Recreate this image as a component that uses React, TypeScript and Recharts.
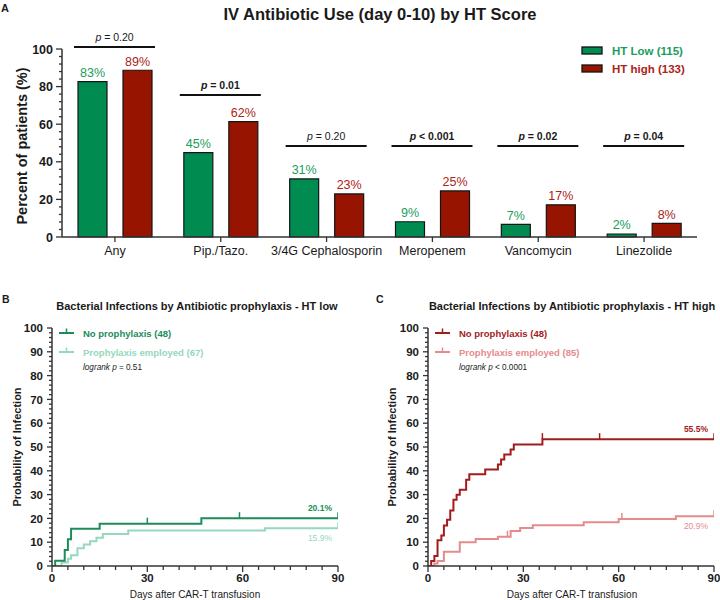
import React from 'react';
import { BarChart, Bar, XAxis, YAxis, LabelList, Legend, ComposedChart, Line } from 'recharts';

const FONT = '"Liberation Sans", Arial, Helvetica, sans-serif';

// ---------- Panel A data ----------
const antibiotics = ['Any', 'Pip./Tazo.', '3/4G Cephalosporin', 'Meropenem', 'Vancomycin', 'Linezolide'];
const htLowPct = [82.6, 44.9, 30.9, 8.1, 6.7, 1.6];
const htHighPct = [88.7, 61.4, 22.9, 24.5, 17.1, 7.3];
const htLowLabels = ['83%', '45%', '31%', '9%', '7%', '2%'];
const htHighLabels = ['89%', '62%', '23%', '25%', '17%', '8%'];
const pOperator = ['=', '=', '=', '<', '=', '='];
const pValue = ['0.20', '0.01', '0.20', '0.001', '0.02', '0.04'];
const pBold = [false, true, false, true, true, true];
const pBracketLevel = [101, 75.5, 48.4, 48.4, 48.4, 48.4];
const barMajorTicks = [0, 20, 40, 60, 80, 100];
const barAllTicks = [0, 4, 8, 12, 16, 20, 24, 28, 32, 36, 40, 44, 48, 52, 56, 60, 64, 68, 72, 76, 80, 84, 88, 92, 96, 100];
const legendA = ['HT Low (115)', 'HT high (133)'];

// ---------- Panel B data (HT low) ----------
const bNoProphylaxis = [
  { day: 0, p: 0 }, { day: 1, p: 2.2 }, { day: 4, p: 6.7 }, { day: 5, p: 11.2 }, { day: 6, p: 15.6 },
  { day: 15, p: 17.8 }, { day: 30, p: 17.8, c: 1 }, { day: 47, p: 20.1 }, { day: 59, p: 20.1, c: 1 },
  { day: 90, p: 20.1, c: 1 },
];
const bProphylaxis = [
  { day: 0, p: 0 }, { day: 3, p: 1.5 }, { day: 5, p: 3.0 }, { day: 6, p: 4.5 }, { day: 8, p: 7.5 },
  { day: 10, p: 9.0 }, { day: 12, p: 10.4 }, { day: 14, p: 11.9 }, { day: 16, p: 13.4 }, { day: 24, p: 14.9 },
  { day: 67, p: 15.9 }, { day: 90, p: 15.9, c: 1 },
];
const bLegend = ['No prophylaxis (48)', 'Prophylaxis employed (67)'];
const bEndLabels = ['20.1%', '15.9%'];
const bLogrank = ['=', '0.51'];

// ---------- Panel C data (HT high) ----------
const cNoProphylaxis = [
  { day: 0, p: 0 }, { day: 1, p: 2.1 }, { day: 2, p: 4.2 }, { day: 3, p: 10.8 }, { day: 4.2, p: 12.8 },
  { day: 5, p: 17.0 }, { day: 6, p: 19.4 }, { day: 7, p: 23.3 }, { day: 8, p: 27.8 }, { day: 9, p: 29.9 },
  { day: 10, p: 32.0 }, { day: 12, p: 36.2 }, { day: 13, p: 38.5 }, { day: 18, p: 40.5 }, { day: 22, p: 42.6 },
  { day: 23, p: 44.7 }, { day: 24, p: 46.9 }, { day: 26, p: 49.0 }, { day: 27, p: 51.1 },
  { day: 36, p: 53.3, c: 1 }, { day: 54, p: 53.3, c: 1 }, { day: 90, p: 53.3, c: 1 },
];
const cProphylaxis = [
  { day: 0, p: 0 }, { day: 2, p: 1.1 }, { day: 3, p: 2.1 }, { day: 5, p: 6.0 }, { day: 10, p: 10.0 },
  { day: 15, p: 11.3 }, { day: 22, p: 12.3 }, { day: 25, p: 12.3, c: 1 }, { day: 26, p: 14.7 },
  { day: 29, p: 16.0 }, { day: 33, p: 17.1 }, { day: 49, p: 18.4 }, { day: 60, p: 19.7 },
  { day: 61, p: 19.7, c: 1 }, { day: 78, p: 20.9 }, { day: 90, p: 20.9, c: 1 },
];
const cLegend = ['No prophylaxis (48)', 'Prophylaxis employed (85)'];
const cEndLabels = ['55.5%', '20.9%'];
const cLogrank = ['<', '0.0001'];

const kmMajorX = [0, 30, 60, 90];
const kmAllX = [0, 5, 10, 15, 20, 25, 30, 35, 40, 45, 50, 55, 60, 65, 70, 75, 80, 85, 90];
const kmMajorY = [0, 10, 20, 30, 40, 50, 60, 70, 80, 90, 100];
const kmAllY = [0, 2, 4, 6, 8, 10, 12, 14, 16, 18, 20, 22, 24, 26, 28, 30, 32, 34, 36, 38, 40, 42, 44, 46, 48, 50,
  52, 54, 56, 58, 60, 62, 64, 66, 68, 70, 72, 74, 76, 78, 80, 82, 84, 86, 88, 90, 92, 94, 96, 98, 100];

// ---------- styles ----------
const GREEN_BAR = '#008c50';
const RED_BAR = '#961400';
const GREEN_TEXT = '#1a9d5c';
const RED_TEXT = '#ab2418';
const DARK_GREEN = '#1c8c5a';
const LIGHT_GREEN = '#95d8bc';
const DARK_RED = '#a31c1c';
const LIGHT_RED = '#e48c8c';
const AXIS = '#333';
const TEXT = '#1a1a1a';
const BAR_SIZE = 29;
const BAR_GAP = 16;

const makeYTick = (majors: number[], offset: number, majorLen: number, minorLen: number, fontSize: number) =>
  (props: any) => {
    const { x, y, payload, index } = props;
    const ax = x + offset;
    const isMajor = majors.includes(payload.value);
    return (
      <g key={`yt-${index}`}>
        <line x1={ax} x2={ax - (isMajor ? majorLen : minorLen)} y1={y} y2={y} stroke={AXIS} strokeWidth={1.3} />
        {isMajor && (
          <text x={x} y={y} dy="0.36em" textAnchor="end" fontFamily={FONT} fontWeight={700} fontSize={fontSize} fill={TEXT}>
            {payload.value}
          </text>
        )}
      </g>
    );
  };

const makeXTick = (majors: number[], offset: number, majorLen: number, minorLen: number, fontSize: number) =>
  (props: any) => {
    const { x, y, payload, index } = props;
    const ay = y - offset;
    const isMajor = majors.includes(payload.value);
    return (
      <g key={`xt-${index}`}>
        <line x1={x} x2={x} y1={ay} y2={ay + (isMajor ? majorLen : minorLen)} stroke={AXIS} strokeWidth={1.3} />
        {isMajor && (
          <text x={x} y={y} dy="0.71em" textAnchor="middle" fontFamily={FONT} fontWeight={700} fontSize={fontSize} fill={TEXT}>
            {payload.value}
          </text>
        )}
      </g>
    );
  };

const censorDot = (color: string) => (props: any) => {
  const { cx, cy, payload, index } = props;
  if (!payload || !payload.c) return <g key={`d-${index}`} />;
  return <line key={`d-${index}`} x1={cx} x2={cx} y1={cy} y2={cy - 6} stroke={color} strokeWidth={1.5} />;
};

const endLabel = (text: string, color: string, lastIndex: number, above: boolean, bold: boolean) => (props: any) => {
  const { x, y, index } = props;
  if (index !== lastIndex) return <g key={`el-${index}`} />;
  return (
    <text key={`el-${index}`} x={x - 6} y={above ? y - 7 : y + 13} textAnchor="end" fontFamily={FONT}
      fontSize={8.5} fontWeight={bold ? 700 : 400} fill={color}>
      {text}
    </text>
  );
};

const BracketLabel = (props: any) => {
  const { x, y, width, height, index, value } = props;
  const h = Math.abs(height);
  const zeroY = y + h;
  const pxPerUnit = h / value;
  const ly = zeroY - pBracketLevel[index] * pxPerUnit;
  const x1 = x - 4;
  const x2 = x + width * 2 + BAR_GAP + 3;
  return (
    <g key={`br-${index}`}>
      <line x1={x1} x2={x2} y1={ly} y2={ly} stroke="#111" strokeWidth={2} />
      <text x={(x1 + x2) / 2} y={ly - 6.5} textAnchor="middle" fontFamily={FONT} fontSize={10.5}
        fontWeight={pBold[index] ? 700 : 400} fill={TEXT}>
        <tspan fontStyle="italic">p</tspan>
        {` ${pOperator[index]} ${pValue[index]}`}
      </text>
    </g>
  );
};

const valueLabel = (labels: string[], color: string) => (props: any) => {
  const { x, y, width, index } = props;
  return (
    <text key={`vl-${index}`} x={x + width / 2} y={y - 4.5} textAnchor="middle" fontFamily={FONT} fontSize={12.5} fill={color}>
      {labels[index]}
    </text>
  );
};

const LegendA = () => (
  <svg width={140} height={34} style={{ display: 'block' }}>
    <rect x={2} y={5} width={20} height={7} fill={GREEN_BAR} stroke="#111" strokeWidth={1.3} />
    <text x={32} y={13} fontFamily={FONT} fontWeight={700} fontSize={11.5} fill={GREEN_TEXT}>{legendA[0]}</text>
    <rect x={2} y={23} width={20} height={7} fill={RED_BAR} stroke="#111" strokeWidth={1.3} />
    <text x={32} y={31} fontFamily={FONT} fontWeight={700} fontSize={11.5} fill={RED_TEXT}>{legendA[1]}</text>
  </svg>
);

const makeKmLegend = (labels: string[], dark: string, light: string, logrank: string[]) => () => (
  <svg width={200} height={46} style={{ display: 'block' }}>
    <line x1={0} x2={15} y1={5} y2={5} stroke={dark} strokeWidth={2} />
    <line x1={7.5} x2={7.5} y1={5} y2={0.5} stroke={dark} strokeWidth={1.5} />
    <text x={24} y={9} fontFamily={FONT} fontWeight={700} fontSize={9.5} fill={dark}>{labels[0]}</text>
    <line x1={0} x2={15} y1={24} y2={24} stroke={light} strokeWidth={2} />
    <line x1={7.5} x2={7.5} y1={24} y2={19.5} stroke={light} strokeWidth={1.5} />
    <text x={24} y={28} fontFamily={FONT} fontWeight={700} fontSize={9.5} fill={light}>{labels[1]}</text>
    <text x={24} y={42} fontFamily={FONT} fontSize={8.2} fill={TEXT}>
      <tspan fontStyle="italic">logrank p</tspan>
      {` ${logrank[0]} ${logrank[1]}`}
    </text>
  </svg>
);

const KmChart = (p: {
  marginLeft: number; marginRight: number; dark: string; light: string;
  darkData: any[]; lightData: any[]; labels: string[]; endLabels: string[]; logrank: string[];
}) => (
  <ComposedChart width={360} height={310} margin={{ top: 38, right: p.marginRight, bottom: 14, left: p.marginLeft }}>
    <XAxis type="number" dataKey="day" domain={[0, 90]} ticks={kmAllX} interval={0} height={20}
      tickSize={6} tickMargin={2} tickLine={false} axisLine={{ stroke: AXIS, strokeWidth: 1.5 }}
      tick={makeXTick(kmMajorX, 8, 6, 4, 11.5)} allowDataOverflow />
    <YAxis type="number" domain={[0, 100]} ticks={kmAllY} interval={0} width={30}
      tickSize={6} tickMargin={3} tickLine={false} axisLine={{ stroke: AXIS, strokeWidth: 1.5 }}
      tick={makeYTick(kmMajorY, 9, 5, 3, 11.5)} allowDataOverflow />
    <Legend layout="horizontal" verticalAlign="middle" align="center"
      wrapperStyle={{ left: p.marginLeft + 37, top: 38, width: 200, height: 46 }}
      content={makeKmLegend(p.labels, p.dark, p.light, p.logrank)} />
    <Line data={p.lightData} dataKey="p" type="stepAfter" stroke={p.light} strokeWidth={2}
      dot={censorDot(p.light)} activeDot={false} isAnimationActive={false} legendType="none"
      label={endLabel(p.endLabels[1], p.light, p.lightData.length - 1, false, false)} />
    <Line data={p.darkData} dataKey="p" type="stepAfter" stroke={p.dark} strokeWidth={2}
      dot={censorDot(p.dark)} activeDot={false} isAnimationActive={false} legendType="none"
      label={endLabel(p.endLabels[0], p.dark, p.darkData.length - 1, true, true)} />
  </ComposedChart>
);

export default function App() {
  const barData = antibiotics.map((name, i) => ({ name, low: htLowPct[i], high: htHighPct[i] }));
  return (
    <div style={{ position: 'absolute', left: 0, top: 0, width: 720, height: 600, background: '#fff', overflow: 'hidden' }}>
      <div style={{ position: 'absolute', left: 0, top: 0 }}>
        <BarChart width={720} height={271} data={barData} margin={{ top: 49, right: 23, bottom: 4, left: 32 }}
          barSize={BAR_SIZE} barGap={BAR_GAP}>
          <XAxis dataKey="name" height={30} tickSize={5} tickMargin={4} interval={0}
            axisLine={{ stroke: AXIS, strokeWidth: 1.5 }} tickLine={{ stroke: AXIS, strokeWidth: 1.3 }}
            tick={{ fontFamily: FONT, fontSize: 12.5, fill: TEXT }} />
          <YAxis type="number" domain={[0, 100]} ticks={barAllTicks} interval={0} width={30}
            tickSize={6} tickMargin={3} tickLine={false} axisLine={{ stroke: AXIS, strokeWidth: 1.5 }}
            tick={makeYTick(barMajorTicks, 9, 6, 3, 12.5)} />
          <Legend layout="horizontal" verticalAlign="middle" align="center"
            wrapperStyle={{ left: 580, top: 42, width: 140, height: 34 }} content={LegendA} />
          <Bar dataKey="low" fill={GREEN_BAR} stroke="#151515" strokeWidth={1.2} isAnimationActive={false}>
            <LabelList dataKey="low" content={valueLabel(htLowLabels, GREEN_TEXT)} />
            <LabelList dataKey="low" content={BracketLabel} />
          </Bar>
          <Bar dataKey="high" fill={RED_BAR} stroke="#151515" strokeWidth={1.2} isAnimationActive={false}>
            <LabelList dataKey="high" content={valueLabel(htHighLabels, RED_TEXT)} />
          </Bar>
        </BarChart>
      </div>
      <div style={{ position: 'absolute', left: 0, top: 290 }}>
        <KmChart marginLeft={22} marginRight={22} dark={DARK_GREEN} light={LIGHT_GREEN}
          darkData={bNoProphylaxis} lightData={bProphylaxis} labels={bLegend} endLabels={bEndLabels} logrank={bLogrank} />
      </div>
      <div style={{ position: 'absolute', left: 360, top: 290 }}>
        <KmChart marginLeft={38} marginRight={6} dark={DARK_RED} light={LIGHT_RED}
          darkData={cNoProphylaxis} lightData={cProphylaxis} labels={cLegend} endLabels={cEndLabels} logrank={cLogrank} />
      </div>
      <svg width={720} height={600} style={{ position: 'absolute', left: 0, top: 0, pointerEvents: 'none' }}>
        <g fontFamily={FONT} fill={TEXT}>
          <text x={1} y={12} fontSize={11} fontWeight={700}>A</text>
          <text x={380} y={20} textAnchor="middle" fontSize={16.5} fontWeight={700}>IV Antibiotic Use (day 0-10) by HT Score</text>
          <text transform="translate(22,146) rotate(-90)" dy="0.35em" textAnchor="middle" fontSize={14.5} fontWeight={700}>Percent of patients (%)</text>
          <text x={2} y={303} fontSize={10.5} fontWeight={700}>B</text>
          <text x={197} y={310} textAnchor="middle" fontSize={11} fontWeight={700}>Bacterial Infections by Antibiotic prophylaxis - HT low</text>
          <text transform="translate(17,447) rotate(-90)" dy="0.35em" textAnchor="middle" fontSize={11} fontWeight={700}>Probability of Infection</text>
          <text x={195} y={598} textAnchor="middle" fontSize={10}>Days after CAR-T transfusion</text>
          <text x={376} y={303} fontSize={10.5} fontWeight={700}>C</text>
          <text x={572} y={310} textAnchor="middle" fontSize={11} fontWeight={700}>Bacterial Infections by Antibiotic prophylaxis - HT high</text>
          <text transform="translate(392,447) rotate(-90)" dy="0.35em" textAnchor="middle" fontSize={11} fontWeight={700}>Probability of Infection</text>
          <text x={572} y={598} textAnchor="middle" fontSize={10}>Days after CAR-T transfusion</text>
        </g>
      </svg>
    </div>
  );
}
